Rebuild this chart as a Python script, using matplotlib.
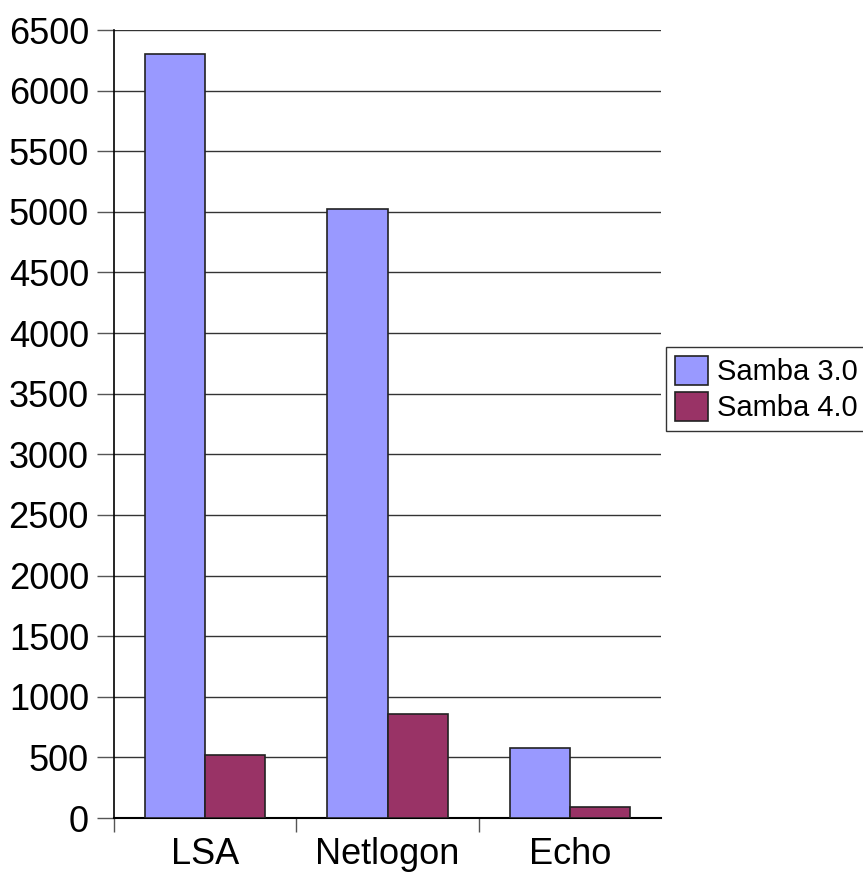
import matplotlib.pyplot as plt
import numpy as np

plt.rcParams['font.family'] = ['Liberation Sans', 'DejaVu Sans']

categories = ['LSA', 'Netlogon', 'Echo']
samba3 = [6303, 5027, 577]
samba4 = [516, 857, 88]
yticks = list(range(0, 6501, 500))

fig = plt.figure(figsize=(8.63, 8.72), dpi=100)
ax = fig.add_axes([114 / 863, 1 - 818 / 872, (661 - 114) / 863, (818 - 30) / 872])

x = np.arange(len(categories))
w = 0.33
ax.bar(x - w / 2, samba3, w, color='#9999ff', edgecolor='#222222', linewidth=1.2,
       label='Samba 3.0', zorder=3)
ax.bar(x + w / 2, samba4, w, color='#993366', edgecolor='#222222', linewidth=1.2,
       label='Samba 4.0', zorder=3)

ax.set_xlim(-0.5, len(categories) - 0.5)
ax.set_ylim(0, 6500)
ax.set_yticks(yticks)
ax.yaxis.grid(True, color='#333333', linewidth=1.0, zorder=0)
ax.set_axisbelow(True)

# labels at the centres, small ticks between the categories
ax.set_xticks(x)
ax.set_xticklabels(categories)
ax.set_xticks(np.arange(-0.5, len(categories) - 1, 1), minor=True)
ax.tick_params(axis='x', which='major', length=0, pad=14, labelsize=26)
ax.tick_params(axis='x', which='minor', length=10, width=1, color='#555555')
ax.tick_params(axis='y', length=12, width=1, color='#555555', labelsize=26, pad=6)

for s in ['top', 'right']:
    ax.spines[s].set_visible(False)
ax.spines['left'].set_linewidth(1.2)
ax.spines['bottom'].set_linewidth(1.5)

leg = ax.legend(loc='center left', bbox_to_anchor=(666 / 863, 1 - 389 / 872),
                bbox_transform=fig.transFigure, fontsize=21, frameon=True,
                fancybox=False, edgecolor='black', handlelength=1.15, handleheight=1.15,
                handletextpad=0.3, labelspacing=0.2, borderpad=0.3, borderaxespad=0)
leg.get_frame().set_linewidth(1.0)

fig.savefig('out.png', dpi=100)
